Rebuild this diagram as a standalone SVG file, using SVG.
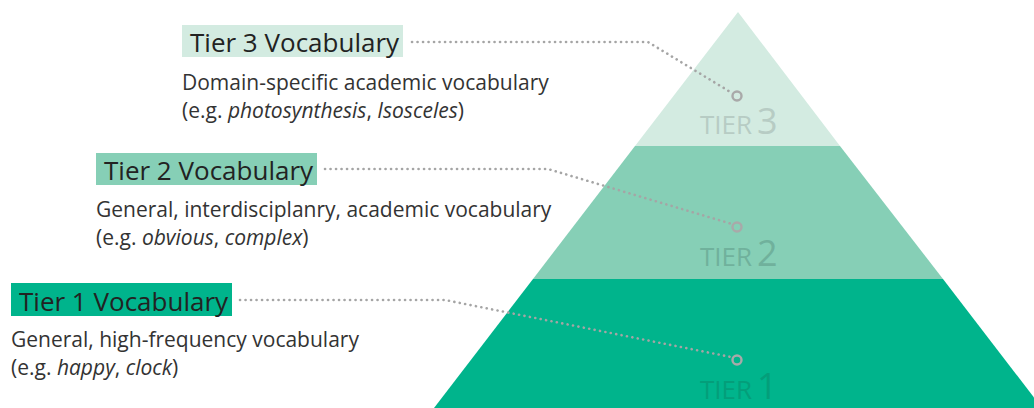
<svg xmlns="http://www.w3.org/2000/svg" width="1034" height="408" viewBox="0 0 1034 408">
<style>
.title{font-family:"Open Sans","Noto Sans",sans-serif;font-size:26px;fill:#222}
.desc{font-family:"Open Sans","Noto Sans",sans-serif;font-size:21px;fill:#333}
.tier{font-family:"Open Sans","Noto Sans",sans-serif;font-size:26px}
.num{font-size:36px}
.conn{fill:none;stroke:#a5a5a5;stroke-width:2.6;stroke-dasharray:0.1 5.4;stroke-linecap:round}
.dot{fill:none;stroke:#a9a9a9;stroke-width:2.4}
</style>
<rect width="1034" height="408" fill="#fff"/>
<g id="pyramid">
<polygon points="738,12 840,146 635,146" fill="#D3EBE1"/>
<polygon points="635,146 840,146 943,279 533,279" fill="#86CFB6"/>
<polygon points="533,279 943,279 1042,408 434,408" fill="#00B48C"/>
</g>
<g id="tier3">
<rect x="182" y="25" width="221" height="32" fill="#D3EBE1"/>
<text class="title" x="190" y="52">Tier 3 Vocabulary</text>
<text class="desc" x="182" y="90">Domain-specific academic vocabulary</text>
<text class="desc" x="182" y="118">(e.g. <tspan font-style="italic">photosynthesis</tspan>, <tspan font-style="italic">Isosceles</tspan>)</text>
<text class="tier" x="700" y="134" fill="#B7CCC4">TIER<tspan class="num" dx="5">3</tspan></text>
</g>
<g id="tier2">
<rect x="96" y="153" width="221" height="32" fill="#86CFB6"/>
<text class="title" x="104" y="180">Tier 2 Vocabulary</text>
<text class="desc" x="96" y="217">General, interdisciplanry, academic vocabulary</text>
<text class="desc" x="96" y="245">(e.g. <tspan font-style="italic">obvious</tspan>, <tspan font-style="italic">complex</tspan>)</text>
<text class="tier" x="700" y="266" fill="#70B19C">TIER<tspan class="num" dx="5">2</tspan></text>
</g>
<g id="tier1">
<rect x="11" y="283" width="221" height="33" fill="#00B48C"/>
<text class="title" x="19" y="311">Tier 1 Vocabulary</text>
<text class="desc" x="11" y="347">General, high-frequency vocabulary</text>
<text class="desc" x="11" y="375">(e.g. <tspan font-style="italic">happy</tspan>, <tspan font-style="italic">clock</tspan>)</text>
<text class="tier" x="700" y="399" fill="#049E7A">TIER<tspan class="num" dx="5">1</tspan></text>
</g>
<g id="connectors">
<polyline class="conn" points="412,42 648,42 732,93"/>
<polyline class="conn" points="325,169 548,169 732,224"/>
<polyline class="conn" points="240,300 445,300 731,357"/>
<circle class="dot" cx="737" cy="96" r="4.5"/>
<circle class="dot" cx="737" cy="227" r="4.5"/>
<circle class="dot" cx="737" cy="360" r="4.5"/>
</g>
</svg>
